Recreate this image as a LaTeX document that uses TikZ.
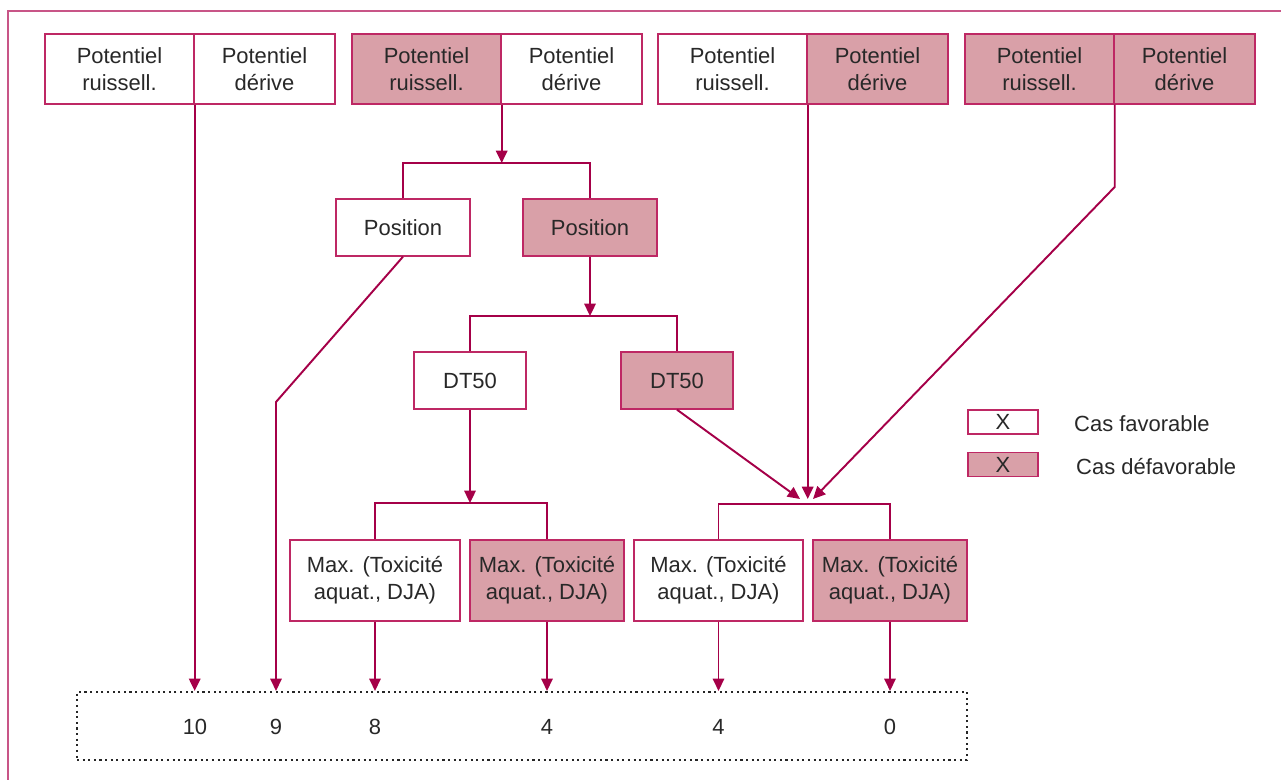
\documentclass[tikz,border=0pt]{standalone}
\usepackage{fontspec}
\setmainfont{Liberation Sans}
\usetikzlibrary{arrows.meta,positioning}
\newdimen\pxu \pxu=0.02cm
\definecolor{cadre}{RGB}{200,85,135}
\definecolor{trait}{RGB}{165,0,72}
\definecolor{bord}{RGB}{190,40,100}
\definecolor{rose}{RGB}{217,160,168}
\definecolor{texte}{RGB}{40,40,40}
\tikzset{
  fav/.style={rectangle, draw=bord, line width=0.8pt, fill=white, text=texte,
    align=center, inner sep=0pt, font=\fontsize{12.5}{15.5}\selectfont},
  defav/.style={fav, fill=rose},
  lien/.style={draw=trait, line width=1.1pt},
  fleche/.style={lien, -{Triangle[length=7pt,width=6.5pt]}},
  valeur/.style={text=texte, font=\fontsize{12.5}{15.5}\selectfont},
}
\begin{document}
\begin{tikzpicture}[x=0.02cm, y=-0.02cm]
  \useasboundingbox (0,0) rectangle (1281,780);
  \draw[cadre, line width=1.2pt] (8,780) -- (8,11) -- (1281,11);

  % couples potentiel ruissellement / derive
  \foreach \s/\a/\b/\n in {45/fav/fav/1, 352/defav/fav/2, 658/fav/defav/3, 965/defav/defav/4} {
    \node[\b, minimum width=141\pxu, minimum height=70\pxu] (d\n) at (\s+219.5,69) {Potentiel\\dérive};
    \node[\a, minimum width=149\pxu, minimum height=70\pxu] (r\n) at (\s+74.5,69) {Potentiel\\ruissell.};
  }

  % position
  \node[fav, minimum width=134\pxu, minimum height=57\pxu] (posF) at (403,227.5) {Position};
  \node[defav, minimum width=134\pxu, minimum height=57\pxu] (posD) at (590,227.5) {Position};

  % DT50
  \node[fav, minimum width=112\pxu, minimum height=57\pxu] (dtF) at (470,380.5) {DT50};
  \node[defav, minimum width=112\pxu, minimum height=57\pxu] (dtD) at (677,380.5) {DT50};

  % toxicite
  \node[fav, minimum width=170\pxu, minimum height=81\pxu] (mxF1) at (375,580.5) {Max. (Toxicité\\aquat., DJA)};
  \node[defav, minimum width=154\pxu, minimum height=81\pxu] (mxD1) at (547,580.5) {Max. (Toxicité\\aquat., DJA)};
  \node[fav, minimum width=169\pxu, minimum height=81\pxu] (mxF2) at (718.5,580.5) {Max. (Toxicité\\aquat., DJA)};
  \node[defav, minimum width=154\pxu, minimum height=81\pxu] (mxD2) at (890,580.5) {Max. (Toxicité\\aquat., DJA)};

  % notes
  \node[draw=black!85, dotted, line width=1.2pt, minimum width=890\pxu, minimum height=68\pxu] (res) at (522,726) {};
  \node[valeur] (n1) at (195,727) {10};
  \node[valeur] (n2) at (276,727) {9};
  \node[valeur] (n3) at (375,727) {8};
  \node[valeur] (n4) at (547,727) {4};
  \node[valeur] (n5) at (718.5,727) {4};
  \node[valeur] (n6) at (890,727) {0};

  % legende
  \node[fav, minimum width=70\pxu, minimum height=24\pxu] (lgF) at (1003,422) {X};
  \node[defav, minimum width=70\pxu, minimum height=24\pxu] (lgD) at (1003,464.5) {X};
  \node[valeur, anchor=west] (txF) at (1068,424) {Cas favorable};
  \node[valeur, anchor=west] (txD) at (1070,467) {Cas défavorable};

  \coordinate (b1) at (501,163);
  \coordinate (b2) at (590,316);
  \coordinate (b3) at (470,503);
  \coordinate (b4) at (804,504);
  \coordinate (c2) at (276,402);
  \coordinate (c4) at (1114,187);
  \coordinate (t1) at (800,499);
  \coordinate (t2) at (807,499);
  \coordinate (t3) at (813,499);

  % branches
  \draw[lien] (posF.north) |- (b1) -| (posD.north);
  \draw[lien] (dtF.north) |- (b2) -| (dtD.north);
  \draw[lien] (mxF1.north) |- (b3) -| (mxD1.north);
  \draw[lien] (mxF2.north) |- (b4) -| (mxD2.north);

  \draw[fleche] (r2.south east) -- (r2.south east |- b1);
  \draw[fleche] (posD.south) -- (b2);
  \draw[fleche] (dtF.south) -- (b3);
  \draw[fleche] (dtD.south) -- (t1);
  \draw[fleche] (r3.south east) -- (r3.south east |- t2);
  \draw[fleche] (r4.south east) -- (r4.south east |- c4) -- (t3);

  \draw[fleche] (r1.south east) -- (r1.south east |- res.north);
  \draw[fleche] (posF.south) -- (c2) -- (n2 |- res.north);
  \draw[fleche] (mxF1.south) -- (n3 |- res.north);
  \draw[fleche] (mxD1.south) -- (n4 |- res.north);
  \draw[fleche] (mxF2.south) -- (n5 |- res.north);
  \draw[fleche] (mxD2.south) -- (n6 |- res.north);
\end{tikzpicture}
\end{document}
